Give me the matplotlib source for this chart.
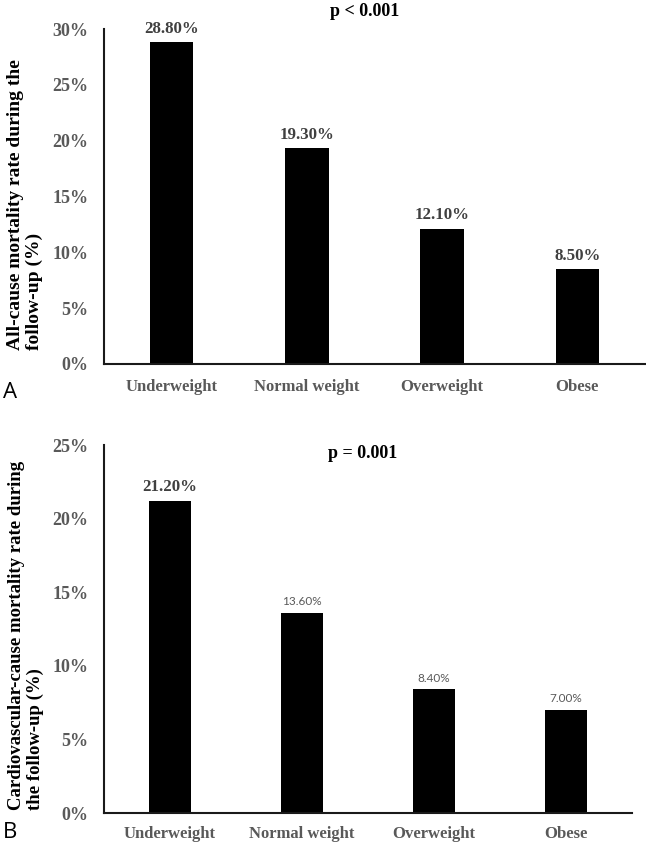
import matplotlib
matplotlib.use("Agg")
import matplotlib.pyplot as plt
from matplotlib.ticker import PercentFormatter

categories = ["Underweight", "Normal weight", "Overweight", "Obese"]
all_cause = [28.8, 19.3, 12.1, 8.5]
cardio = [21.2, 13.6, 8.4, 7.0]
yticks_a = [0, 5, 10, 15, 20, 25, 30]
yticks_b = [0, 5, 10, 15, 20, 25]
p_a = "p < 0.001"
p_b = "p = 0.001"
ylabel_a = "All-cause mortality rate during the\nfollow-up (%)"
ylabel_b = "Cardiovascular-cause mortality rate during\nthe follow-up (%)"

W, H = 646, 843
fig = plt.figure(figsize=(W / 100, H / 100), dpi=100)

SERIF = "Liberation Serif"
GRAY = "#595959"

def px_ax(l, r, t, b):
    return fig.add_axes([l / W, 1 - b / H, (r - l) / W, (b - t) / H])

ax1 = px_ax(104, 645, 29, 364)
ax2 = px_ax(104, 632, 445, 813)

def style(ax, ticks, top, xpad):
    ax.set_xlim(-0.5, len(categories) - 0.5)
    ax.set_ylim(0, top)
    ax.set_yticks(ticks)
    ax.yaxis.set_major_formatter(PercentFormatter(decimals=0))
    for s in ["top", "right"]:
        ax.spines[s].set_visible(False)
    for s in ["left", "bottom"]:
        ax.spines[s].set_linewidth(1.5)
        ax.spines[s].set_color("#1a1a1a")
    ax.tick_params(axis="y", length=0, pad=11)
    ax.tick_params(axis="x", length=0, pad=xpad)
    ax.set_xticks(range(len(categories)))
    ax.set_xticklabels(categories)
    for lab in ax.get_yticklabels():
        lab.set_fontfamily(SERIF)
        lab.set_fontweight("bold")
        lab.set_fontsize(13)
        lab.set_color(GRAY)
    for lab in ax.get_xticklabels():
        lab.set_fontfamily(SERIF)
        lab.set_fontweight("bold")
        lab.set_fontsize(12)
        lab.set_color(GRAY)

style(ax1, yticks_a, 30, 10.5)
style(ax2, yticks_b, 25, 9)

x = list(range(len(categories)))
ax1.bar(x, all_cause, width=0.32, color="black")
ax2.bar(x, cardio, width=0.32, color="black")

for xi, v in zip(x, all_cause):
    ax1.annotate(f"{v:.2f}%", (xi, v), xytext=(0, 4), textcoords="offset points",
                 ha="center", va="bottom", fontfamily=SERIF, fontweight="bold",
                 fontsize=12.2, color="#404040")

for i, (xi, v) in enumerate(zip(x, cardio)):
    if i == 0:
        ax2.annotate(f"{v:.2f}%", (xi, v), xytext=(0, 4), textcoords="offset points",
                     ha="center", va="bottom", fontfamily=SERIF, fontweight="bold",
                     fontsize=12.2, color="#404040")
    else:
        ax2.annotate(f"{v:.2f}%", (xi, v), xytext=(0, 4), textcoords="offset points",
                     ha="center", va="bottom", fontfamily="Lato",
                     fontsize=8.5, color="#595959")

fig.text(365 / W, 1 - 12 / H, p_a, ha="center", va="center", fontfamily=SERIF,
         fontweight="bold", fontsize=13, color="black")
fig.text(363 / W, 1 - 453 / H, p_b, ha="center", va="center", fontfamily=SERIF,
         fontweight="bold", fontsize=13, color="black")

fig.text(25 / W, 1 - 350 / H, ylabel_a, rotation=90, ha="center", va="bottom",
         multialignment="left", fontfamily=SERIF, fontweight="bold", fontsize=14,
         color="black", linespacing=1.2)
fig.text(26 / W, 1 - 810 / H, ylabel_b, rotation=90, ha="center", va="bottom",
         multialignment="left", fontfamily=SERIF, fontweight="bold", fontsize=13.5,
         color="black", linespacing=1.2)

fig.text(10 / W, 1 - 392 / H, "A", ha="center", va="center", fontfamily="Open Sans",
         fontsize=16, color="black")
fig.text(10 / W, 1 - 833 / H, "B", ha="center", va="center", fontfamily="Open Sans",
         fontsize=16, color="black")

fig.savefig("out.png", dpi=100)
